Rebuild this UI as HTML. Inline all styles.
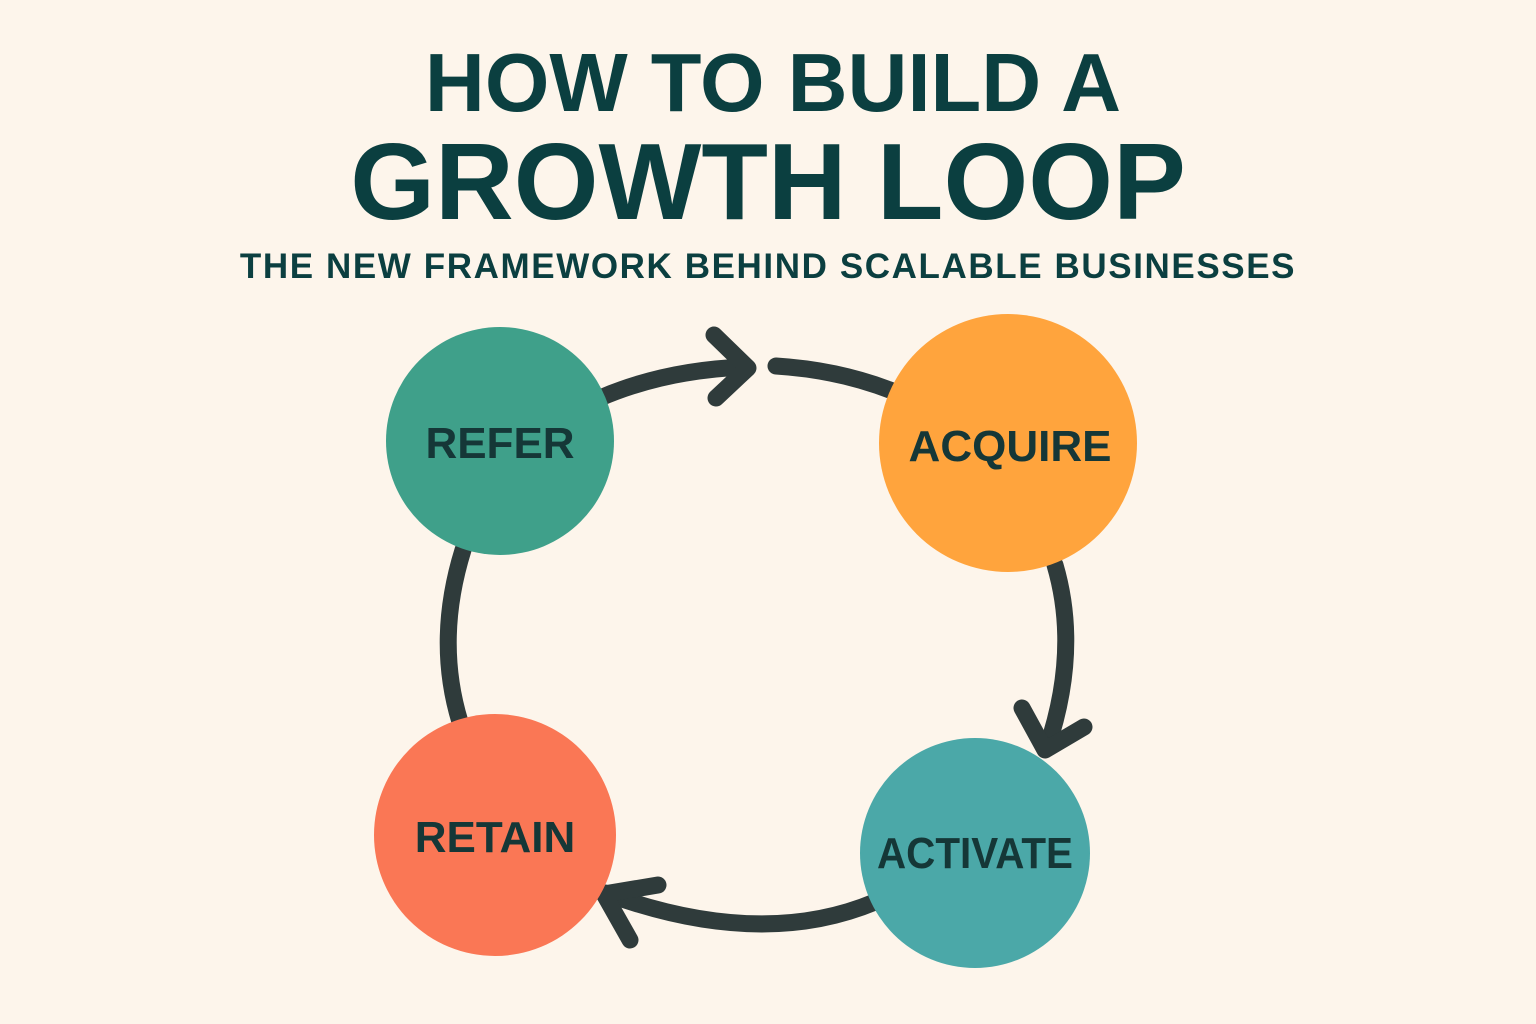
<!DOCTYPE html>
<html><head><meta charset="utf-8"><style>
html,body{margin:0;padding:0;background:#FDF5EB;}
body{width:1536px;height:1024px;overflow:hidden;position:relative;font-family:"Liberation Sans",sans-serif;}
.t{position:absolute;left:0;width:1536px;text-align:center;color:#0B3F40;font-weight:bold;white-space:nowrap;}
</style></head><body>
<div class="t" style="top:38px;font-size:83px;letter-spacing:0px;line-height:90px;padding-left:10px;box-sizing:border-box;">HOW TO BUILD A</div>
<div class="t" style="top:124px;font-size:109px;letter-spacing:0px;line-height:116px;">GROWTH LOOP</div>
<div class="t" style="top:245px;font-size:35px;letter-spacing:1.6px;line-height:44px;">THE NEW FRAMEWORK BEHIND SCALABLE BUSINESSES</div>
<svg width="1536" height="1024" style="position:absolute;left:0;top:0" xmlns="http://www.w3.org/2000/svg">
<g fill="none" stroke="#2F3B3B" stroke-width="17" stroke-linecap="round" stroke-linejoin="round">
<path d="M600 398 Q665 370 745 367"/>
<path d="M714 335 L748 368 L716 398"/>
<path d="M776 366 Q840 370 895 392"/>
<path d="M1055 565 Q1080 650 1047 748"/>
<path d="M1022 708 L1045 750 L1084 727"/>
<path d="M875 902 Q760 950 605 893"/>
<path d="M658 885 L604 894 L630 940"/>
<path d="M463 550 Q435 640 460 722"/>
</g>
<circle cx="500" cy="441" r="114" fill="#3FA08A"/>
<circle cx="1008" cy="443" r="129" fill="#FFA43D"/>
<circle cx="975" cy="853" r="115" fill="#4BA8A8"/>
<circle cx="495" cy="835" r="121" fill="#FA7755"/>
<g font-family="Liberation Sans,sans-serif" font-weight="bold" font-size="44" fill="#153737" text-anchor="middle">
<text x="500" y="458">REFER</text>
<text x="1010" y="461">ACQUIRE</text>
<text x="975" y="868" textLength="196" lengthAdjust="spacingAndGlyphs">ACTIVATE</text>
<text x="495" y="852">RETAIN</text>
</g>
</svg>
</body></html>
